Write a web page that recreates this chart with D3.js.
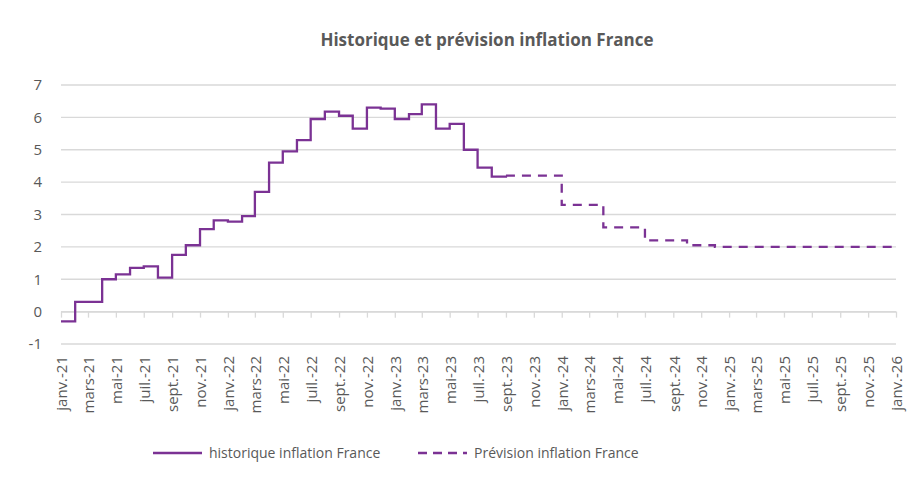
<!DOCTYPE html>
<html>
<head>
<meta charset="utf-8">
<script src="https://cdn.jsdelivr.net/npm/d3@7"></script>
<style>
  body { margin: 0; background: #fff; }
  text { font-family: "Open Sans", sans-serif; fill: #595959; }
</style>
</head>
<body>
<svg width="913" height="484"></svg>
<script>
const width = 913,
    height = 484,
    margin = ({ top: 85, right: 17, bottom: 140, left: 61 });

// monthly history, janv.-21 -> sept.-23
const histStart = "2021-01-01";
const histValues = [
  -0.3, 0.3, 0.3, 1.0, 1.15, 1.35, 1.4, 1.05, 1.75, 2.05, 2.55, 2.82,
  2.78, 2.95, 3.7, 4.6, 4.95, 5.3, 5.95, 6.18, 6.05, 5.65, 6.3, 6.27,
  5.95, 6.1, 6.4, 5.65, 5.8, 5.0, 4.45, 4.17, 4.2
];

// forecast, steps
const prevDates = ["2023-09-01", "2024-01-01", "2024-04-01", "2024-07-01", "2024-10-01", "2024-12-01", "2026-01-01"];
const prevValues = [4.2, 3.3, 2.6, 2.2, 2.05, 2.0, 2.0];

const yTicks = [-1, 0, 1, 2, 3, 4, 5, 6, 7];
const monthNames = ["janv.", "févr.", "mars", "avr.", "mai", "juin", "juil.", "août", "sept.", "oct.", "nov.", "déc."];

const parse = d3.timeParse("%Y-%m-%d");
const t0 = parse(histStart);
const hist = histValues.map((v, i) => ({ date: d3.timeMonth.offset(t0, i), value: v }));
const prev = prevDates.map((d, i) => ({ date: parse(d), value: prevValues[i] }));

const color = "#7b3294";

const svg = d3.select("svg");

const x = d3.scaleTime()
    .domain([parse("2021-01-01"), parse("2026-01-01")])
    .range([margin.left, width - margin.right]);

const y = d3.scaleLinear()
    .domain([-1, 7])
    .range([height - margin.bottom, margin.top]);

// title
svg.append("text")
    .attr("x", 487)
    .attr("y", 46)
    .attr("text-anchor", "middle")
    .style("font-size", "17px")
    .style("font-weight", "bold")
    .text("Historique et prévision inflation France");

// gridlines
svg.append("g")
    .selectAll("line")
    .data(yTicks)
    .join("line")
    .attr("x1", x.range()[0])
    .attr("x2", x.range()[1])
    .attr("y1", d => y(d))
    .attr("y2", d => y(d))
    .attr("stroke", "#d9d9d9")
    .attr("stroke-width", 1.3);

// y labels
svg.append("g")
    .selectAll("text")
    .data(yTicks)
    .join("text")
    .attr("x", 42)
    .attr("y", d => y(d))
    .attr("dy", "0.35em")
    .attr("text-anchor", "end")
    .style("font-size", "15px")
    .text(d => d);

// category axis on zero
const xTicks = d3.timeMonth.every(2).range(x.domain()[0], d3.timeDay.offset(x.domain()[1], 1));

const zeroAxis = svg.append("g")
    .attr("transform", `translate(0,${y(0)})`)
    .call(d3.axisBottom(x).tickValues(xTicks).tickSize(6).tickSizeOuter(0).tickFormat(""));
zeroAxis.select(".domain").attr("stroke", "#d9d9d9").attr("stroke-width", 1.3);
zeroAxis.selectAll(".tick line").attr("stroke", "#d9d9d9").attr("stroke-width", 1.3);

// x labels
svg.append("g")
    .selectAll("text")
    .data(xTicks)
    .join("text")
    .attr("transform", d => `translate(${x(d) + 1},356) rotate(-90)`)
    .attr("dy", "0.35em")
    .attr("text-anchor", "end")
    .style("font-size", "15px")
    .text(d => monthNames[d.getMonth()] + "-" + d3.timeFormat("%y")(d));

const line = d3.line()
    .x(d => x(d.date))
    .y(d => y(d.value))
    .curve(d3.curveStepAfter);

svg.append("path")
    .datum(prev)
    .attr("d", line)
    .attr("fill", "none")
    .attr("stroke", color)
    .attr("stroke-width", 2.3)
    .attr("stroke-dasharray", "9,7");

svg.append("path")
    .datum(hist)
    .attr("d", line)
    .attr("fill", "none")
    .attr("stroke", color)
    .attr("stroke-width", 2.3);

// legend
const legend = [
  { label: "historique inflation France", x: 153, dash: null },
  { label: "Prévision inflation France", x: 418, dash: "9,6" }
];

const lg = svg.append("g")
    .selectAll("g")
    .data(legend)
    .join("g")
    .attr("transform", d => `translate(${d.x},453)`);

lg.append("line")
    .attr("x1", 0)
    .attr("x2", 49)
    .attr("stroke", color)
    .attr("stroke-width", 2.3)
    .attr("stroke-dasharray", d => d.dash);

lg.append("text")
    .attr("x", 56)
    .attr("dy", "0.35em")
    .style("font-size", "14px")
    .text(d => d.label);
</script>
</body>
</html>
